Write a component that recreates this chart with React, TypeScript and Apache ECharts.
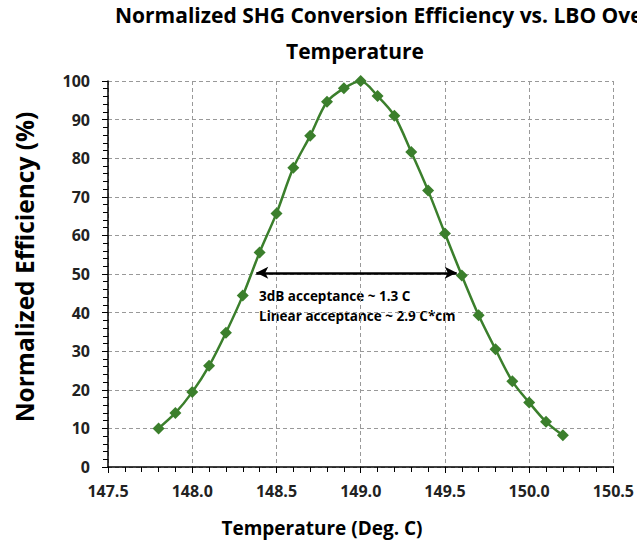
import React, { useEffect, useRef } from "react";
import * as echarts from "echarts";

const temperatures = [147.8, 147.9, 148.0, 148.1, 148.2, 148.3, 148.4, 148.5, 148.6, 148.7, 148.8, 148.9, 149.0, 149.1, 149.2, 149.3, 149.4, 149.5, 149.6, 149.7, 149.8, 149.9, 150.0, 150.1, 150.2];
const efficiency = [10.0, 14.0, 19.4, 26.2, 34.8, 44.4, 55.6, 65.7, 77.5, 85.8, 94.6, 98.1, 100, 96.1, 91.0, 81.6, 71.6, 60.5, 49.6, 39.3, 30.5, 22.2, 16.7, 11.7, 8.2];
const arrowX = [148.38, 149.57];
const arrowY = 50.3;
const annotationLines = ["3dB acceptance ~ 1.3 C", "Linear acceptance ~ 2.9 C*cm"];
const titleLines = ["Normalized SHG Conversion Efficiency vs. LBO Oven", "Temperature"];
const xAxisTitle = "Temperature (Deg. C)";
const yAxisTitle = "Normalized Efficiency (%)";

const FONT = "Open Sans";

export default function App() {
  const ref = useRef<HTMLDivElement>(null);
  useEffect(() => {
    if (!ref.current) return;
    const chart = echarts.init(ref.current, null, { renderer: "svg" });
    const green = "#3b7f2c";
    chart.setOption({
      animation: false,
      backgroundColor: "#ffffff",
      grid: { left: 108, right: 23, top: 81, bottom: 75, containLabel: false },
      graphic: [
        { type: "text", x: 115, y: 4, style: { text: titleLines[0], font: `bold 21px '${FONT}'`, fill: "#000" } },
        { type: "text", x: 355, y: 40, style: { text: titleLines[1], font: `bold 21px '${FONT}'`, fill: "#000", textAlign: "center" } },
        { type: "text", x: 259, y: 296, style: { text: annotationLines[0], font: `bold 13.5px '${FONT}'`, fill: "#000", textVerticalAlign: "middle" } },
        { type: "text", x: 259, y: 316, style: { text: annotationLines[1], font: `bold 13.5px '${FONT}'`, fill: "#000", textVerticalAlign: "middle" } },
        { type: "text", x: 322, y: 528, style: { text: xAxisTitle, font: `bold 19px '${FONT}'`, fill: "#000", textAlign: "center", textVerticalAlign: "middle" } },
        { type: "text", x: 24, y: 267, rotation: Math.PI / 2, style: { text: yAxisTitle, font: `bold 24.5px '${FONT}'`, fill: "#000", textAlign: "center", textVerticalAlign: "middle" } },
      ],
      xAxis: {
        type: "value",
        min: 147.5,
        max: 150.5,
        interval: 0.5,
        axisLine: { show: true, lineStyle: { color: "#000", width: 1.5 } },
        axisTick: { show: true, inside: false, length: 6, lineStyle: { color: "#000" } },
        minorTick: { show: true, splitNumber: 5, length: 5, lineStyle: { color: "#000" } },
        axisLabel: { formatter: (v: number) => v.toFixed(1), fontFamily: FONT, fontWeight: "bold", fontSize: 16, color: "#222", margin: 16 },
        splitLine: { show: true, lineStyle: { color: "#999", type: [4, 3], width: 1 } },
      },
      yAxis: {
        type: "value",
        min: 0,
        max: 100,
        interval: 10,
        axisLine: { show: true, lineStyle: { color: "#000", width: 1.5 } },
        axisTick: { show: true, inside: false, length: 6, lineStyle: { color: "#000" } },
        minorTick: { show: true, splitNumber: 5, length: 5, lineStyle: { color: "#000" } },
        axisLabel: { fontFamily: FONT, fontWeight: "bold", fontSize: 16, color: "#222", margin: 18 },
        splitLine: { show: true, lineStyle: { color: "#999", type: [4, 3], width: 1 } },
      },
      series: [
        {
          type: "line",
          data: temperatures.map((t, i) => [t, efficiency[i]]),
          smooth: 0.3,
          symbol: "diamond",
          symbolSize: 12,
          lineStyle: { color: green, width: 2.5 },
          itemStyle: { color: green },
          markLine: {
            silent: true,
            symbol: ["arrow", "arrow"],
            symbolSize: [9, 12],
            label: { show: false },
            lineStyle: { color: "#000", width: 2.5, type: "solid" },
            data: [[{ coord: [arrowX[0], arrowY] }, { coord: [arrowX[1], arrowY] }]],
          },
        },
      ],
    });
    return () => chart.dispose();
  }, []);
  return <div ref={ref} style={{ position: "fixed", left: 0, top: 0, width: 637, height: 542 }} />;
}
